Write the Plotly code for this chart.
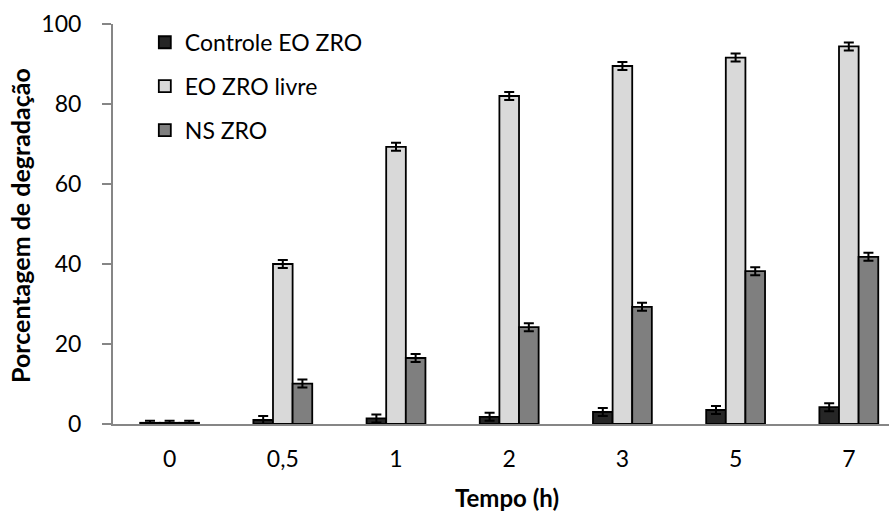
import plotly.graph_objects as go

# Degradation over time for the three formulations
tempos = ["0", "0,5", "1", "2", "3", "5", "7"]

controle_eo = [0.3, 1.0, 1.4, 1.8, 3.0, 3.5, 4.2]
controle_err = [0.5, 1.0, 1.0, 1.0, 1.0, 1.0, 1.0]

eo_livre = [0.3, 40.0, 69.3, 82.0, 89.5, 91.6, 94.4]
eo_livre_err = [0.5, 1.0, 1.0, 1.0, 1.0, 1.0, 1.0]

ns_zro = [0.3, 10.1, 16.5, 24.2, 29.3, 38.2, 41.8]
ns_zro_err = [0.5, 1.0, 1.0, 1.0, 1.0, 1.0, 1.0]

series = [
    ("Controle EO ZRO", controle_eo, controle_err, "#262626"),
    ("EO ZRO livre", eo_livre, eo_livre_err, "#d9d9d9"),
    ("NS ZRO", ns_zro, ns_zro_err, "#7f7f7f"),
]

FONT = "Lato, Calibri, sans-serif"
SIZE = 23

fig = go.Figure()
for i, (name, vals, errs, color) in enumerate(series):
    fig.add_trace(go.Bar(
        x=tempos, y=vals, name=name,
        legendgroup=f"g{i}",
        marker=dict(color=color, line=dict(color="#000000", width=1.8)),
        error_y=dict(type="data", array=errs, visible=True,
                     color="#000000", thickness=2, width=5),
    ))

fig.update_layout(
    width=889, height=512,
    margin=dict(l=113, r=0, t=24, b=88),
    paper_bgcolor="white", plot_bgcolor="white",
    barmode="group", bargap=0.48, bargroupgap=0,
    font=dict(family=FONT, size=SIZE, color="#000000"),
    showlegend=True,
    legend=dict(
        x=0.041, y=1.008, xanchor="left", yanchor="top",
        bgcolor="rgba(0,0,0,0)", traceorder="grouped",
        tracegroupgap=11, font=dict(family=FONT, size=SIZE),
    ),
    xaxis=dict(
        type="category", range=[-0.5, 6.355],
        showline=True, linecolor="#868686", linewidth=2,
        ticks="", showgrid=False, zeroline=False,
        ticklabelstandoff=13,
        tickfont=dict(family=FONT, size=SIZE),
    ),
    yaxis=dict(
        range=[0, 100], tickvals=[0, 20, 40, 60, 80, 100],
        showline=True, linecolor="#868686", linewidth=2,
        ticks="outside", ticklen=9, tickwidth=2, tickcolor="#868686",
        showgrid=False, zeroline=False,
        ticklabelstandoff=16,
        tickfont=dict(family=FONT, size=SIZE),
    ),
    annotations=[
        dict(text="<b>Tempo (h)</b>", xref="paper", yref="paper",
             x=(507 - 113) / 776, y=-(497 - 424) / 400,
             xanchor="center", yanchor="middle", showarrow=False,
             font=dict(family=FONT, size=24)),
        dict(text="<b>Porcentagem de degradação</b>", xref="paper", yref="paper",
             x=-(113 - 20) / 776, y=(424 - 226) / 400, textangle=-90,
             xanchor="center", yanchor="middle", showarrow=False,
             font=dict(family=FONT, size=25)),
    ],
)

fig.write_html("out.html")
